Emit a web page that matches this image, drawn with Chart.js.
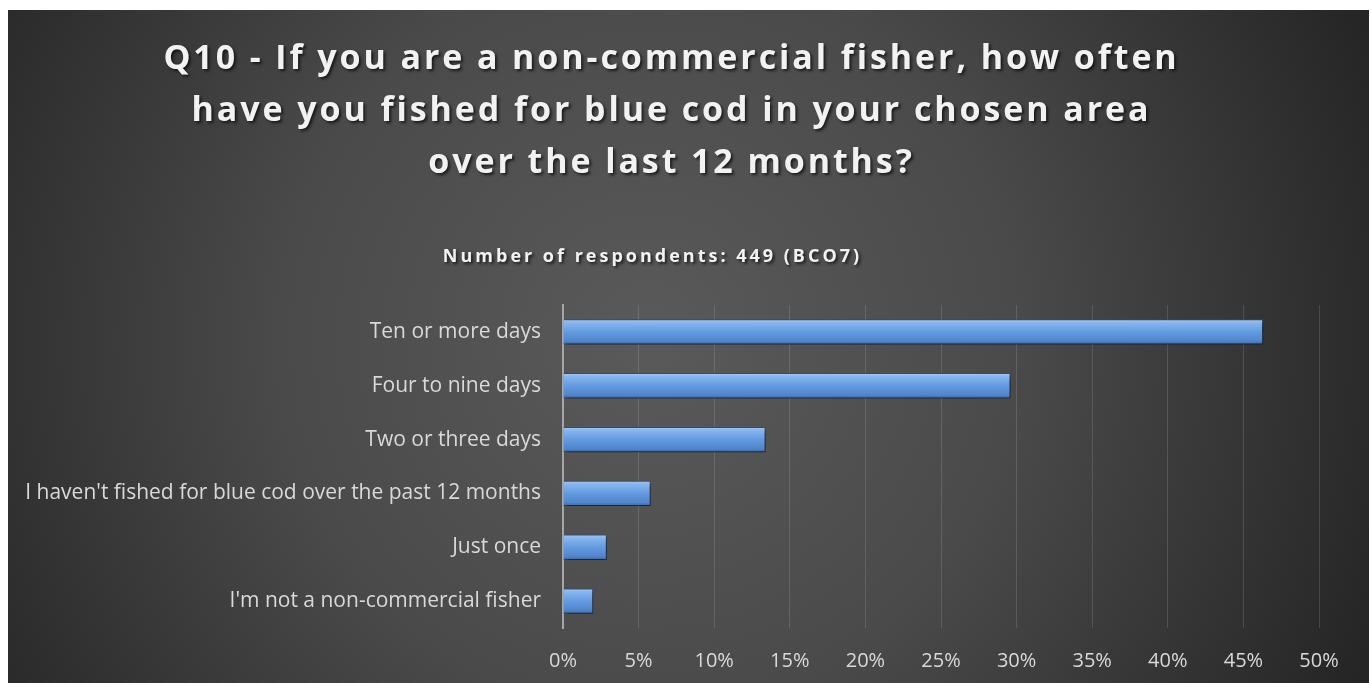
<!DOCTYPE html>
<html>
<head>
<meta charset="utf-8">
<script src="https://cdn.jsdelivr.net/npm/chart.js@4.4.0/dist/chart.umd.min.js"></script>
<style>
  html, body { margin: 0; padding: 0; background: #fff; }
  #wrap { position: absolute; left: 8px; top: 10px; width: 1361px; height: 673px; }
</style>
</head>
<body>
<div id="wrap"><canvas id="chart"></canvas></div>
<script>
// data
const categories = [
    'Ten or more days',
    'Four to nine days',
    'Two or three days',
    "I haven't fished for blue cod over the past 12 months",
    'Just once',
    "I'm not a non-commercial fisher"
];
const shares = [46.3, 29.6, 13.4, 5.8, 2.9, 2.0];
const titleLines = [
    'Q10 - If you are a non-commercial fisher, how often',
    'have you fished for blue cod in your chosen area',
    'over the last 12 months?'
];
const subtitleText = 'Number of respondents: 449 (BCO7)';
const xTicks = { min: 0, max: 50, step: 5 };

// dark radial background
const backdrop = {
    id: 'backdrop',
    beforeDraw(chart) {
        const { ctx, width, height } = chart;
        const g = ctx.createRadialGradient(640, 330, 0, 640, 330, 820);
        g.addColorStop(0, '#5a5a5a');
        g.addColorStop(0.45, '#4a4a4a');
        g.addColorStop(1, '#222222');
        ctx.save();
        ctx.fillStyle = g;
        ctx.fillRect(0, 0, width, height);
        ctx.restore();
    }
};

// letter spacing + shadow on the title blocks
const spacedTitles = {
    id: 'spacedTitles',
    beforeDraw(chart) {
        chart.boxes.forEach(box => {
            if (box._spaced || !box.options || box.options.text === undefined) return;
            const isMain = box === chart.titleBlock;
            const spacing = isMain ? '2.9px' : '3px';
            const dx = isMain ? 8 : -11;
            const orig = box.draw.bind(box);
            box.draw = function() {
                const ctx = chart.ctx;
                ctx.save();
                ctx.translate(dx, 0);
                ctx.letterSpacing = spacing;
                ctx.shadowColor = 'rgba(0,0,0,0.65)';
                ctx.shadowOffsetX = 2;
                ctx.shadowOffsetY = 2;
                ctx.shadowBlur = 3;
                orig();
                ctx.restore();
            };
            box._spaced = true;
        });
    }
};

// drop shadow under bars
const barShadow = {
    id: 'barShadow',
    beforeDatasetsDraw(chart) {
        const ctx = chart.ctx;
        ctx.save();
        ctx.shadowColor = 'rgba(0,0,0,0.55)';
        ctx.shadowOffsetX = 2;
        ctx.shadowOffsetY = 3;
        ctx.shadowBlur = 4;
    },
    afterDatasetsDraw(chart) {
        chart.ctx.restore();
    }
};

function barFill(context) {
    const chart = context.chart;
    const y = chart.scales.y;
    if (!y || y.getPixelForTick === undefined) return '#5f96dc';
    const c = y.getPixelForTick(context.dataIndex);
    const half = 13;
    const g = chart.ctx.createLinearGradient(0, c - half, 0, c + half);
    g.addColorStop(0, '#b0d0f8');
    g.addColorStop(0.12, '#8ab8f0');
    g.addColorStop(0.5, '#639ae0');
    g.addColorStop(0.85, '#5286cc');
    g.addColorStop(1, '#36639e');
    return g;
}

new Chart(document.getElementById('chart'), {
    type: 'bar',
    data: {
        labels: categories,
        datasets: [{
            data: shares,
            backgroundColor: barFill,
            borderColor: '#2d4f80',
            borderWidth: 1,
            categoryPercentage: 1,
            barPercentage: 0.47
        }]
    },
    options: {
        indexAxis: 'y',
        responsive: true,
        maintainAspectRatio: false,
        animation: false,
        layout: { padding: { left: 0, right: 50, top: 0, bottom: 0 } },
        plugins: {
            legend: { display: false },
            tooltip: { enabled: false },
            title: {
                display: true,
                text: titleLines,
                color: '#f2f2f2',
                font: { family: 'Open Sans', size: 34, weight: 'bold', lineHeight: '52px' },
                padding: { top: 23, bottom: 27 }
            },
            subtitle: {
                display: true,
                text: subtitleText,
                color: '#f2f2f2',
                font: { family: 'Open Sans', size: 18, weight: 'bold', lineHeight: '24px' },
                padding: { top: 29, bottom: 36 }
            }
        },
        scales: {
            x: {
                min: xTicks.min,
                max: xTicks.max,
                afterFit(scale) { scale.height = 55; },
                ticks: {
                    stepSize: xTicks.step,
                    color: '#d9d9d9',
                    padding: 21,
                    font: { family: 'Open Sans', size: 20 },
                    callback: v => v + '%'
                },
                grid: { color: 'rgba(255,255,255,0.13)', lineWidth: 1, drawTicks: false },
                border: { display: false }
            },
            y: {
                afterFit(scale) { scale.width = 555; },
                ticks: {
                    color: '#d9d9d9',
                    padding: 22,
                    font: { family: 'Open Sans', size: 21 }
                },
                grid: { display: false, drawTicks: false },
                border: { display: true, color: '#a6a6a6', width: 2 }
            }
        }
    },
    plugins: [backdrop, spacedTitles, barShadow]
});
</script>
</body>
</html>
